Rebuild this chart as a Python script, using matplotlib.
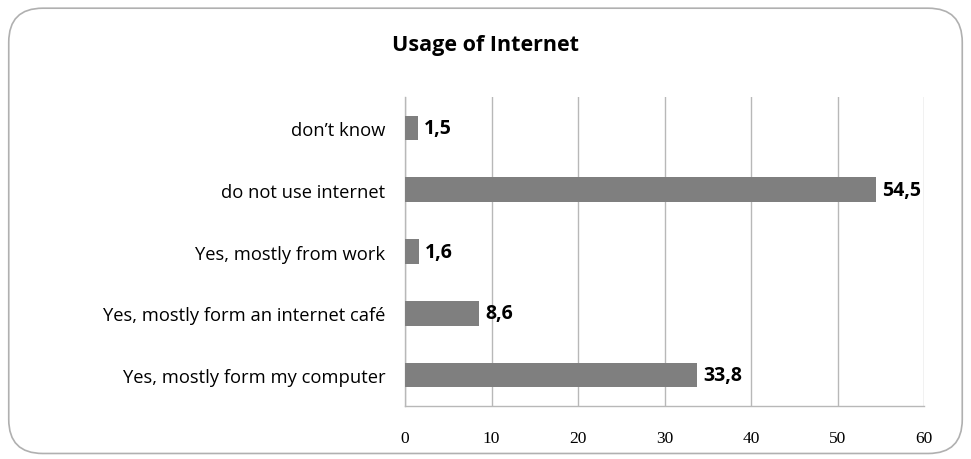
import matplotlib
matplotlib.use("Agg")
import matplotlib.pyplot as plt
from matplotlib.patches import FancyBboxPatch

categories = ["Yes, mostly form my computer", "Yes, mostly form an internet café",
              "Yes, mostly from work", "do not use internet", "don\u2019t know"]
values = [33.8, 8.6, 1.6, 54.5, 1.5]
value_labels = ["33,8", "8,6", "1,6", "54,5", "1,5"]
xticks = [0, 10, 20, 30, 40, 50, 60]
title = "Usage of Internet"

fig = plt.figure(figsize=(9.71, 4.60), dpi=100)
fig.patch.set_facecolor("white")

border = FancyBboxPatch((0.009, 0.012), 0.982, 0.968,
                        boxstyle="round,pad=0,rounding_size=0.035",
                        transform=fig.transFigure, facecolor="none",
                        edgecolor="#b0b0b0", linewidth=1.2, mutation_aspect=971/460,
                        zorder=-1)
fig.patches.append(border)

ax = fig.add_axes([0.4171, 0.1152, 0.5345, 0.6717])
ax.set_facecolor("none")
y = list(range(len(categories)))
ax.barh(y, values, height=0.4, color="#7f7f7f", zorder=3)
for yi, v, lab in zip(y, values, value_labels):
    ax.text(v + 0.7, yi, lab, va="center", ha="left", fontsize=14,
            fontweight="bold", family="Open Sans", color="black")

ax.set_xlim(0, 60)
ax.set_ylim(-0.5, len(categories) - 0.5)
ax.set_xticks(xticks)
ax.set_xticklabels([str(t) for t in xticks], family="Liberation Serif", fontsize=12.5)
ax.set_yticks(y)
ax.set_yticklabels(categories, family="Open Sans", fontsize=13.2)
ax.tick_params(axis="x", length=0, pad=17)
ax.tick_params(axis="y", length=0, pad=14)
ax.grid(axis="x", color="#b8b8b8", linewidth=1, zorder=0)
for s in ["top", "right"]:
    ax.spines[s].set_visible(False)
for s in ["left", "bottom"]:
    ax.spines[s].set_color("#b8b8b8")
    ax.spines[s].set_linewidth(1)

fig.text(0.5, 0.9, title, ha="center", va="center", fontsize=15.5,
         fontweight="bold", family="Open Sans")

fig.savefig("out.png", dpi=100)
